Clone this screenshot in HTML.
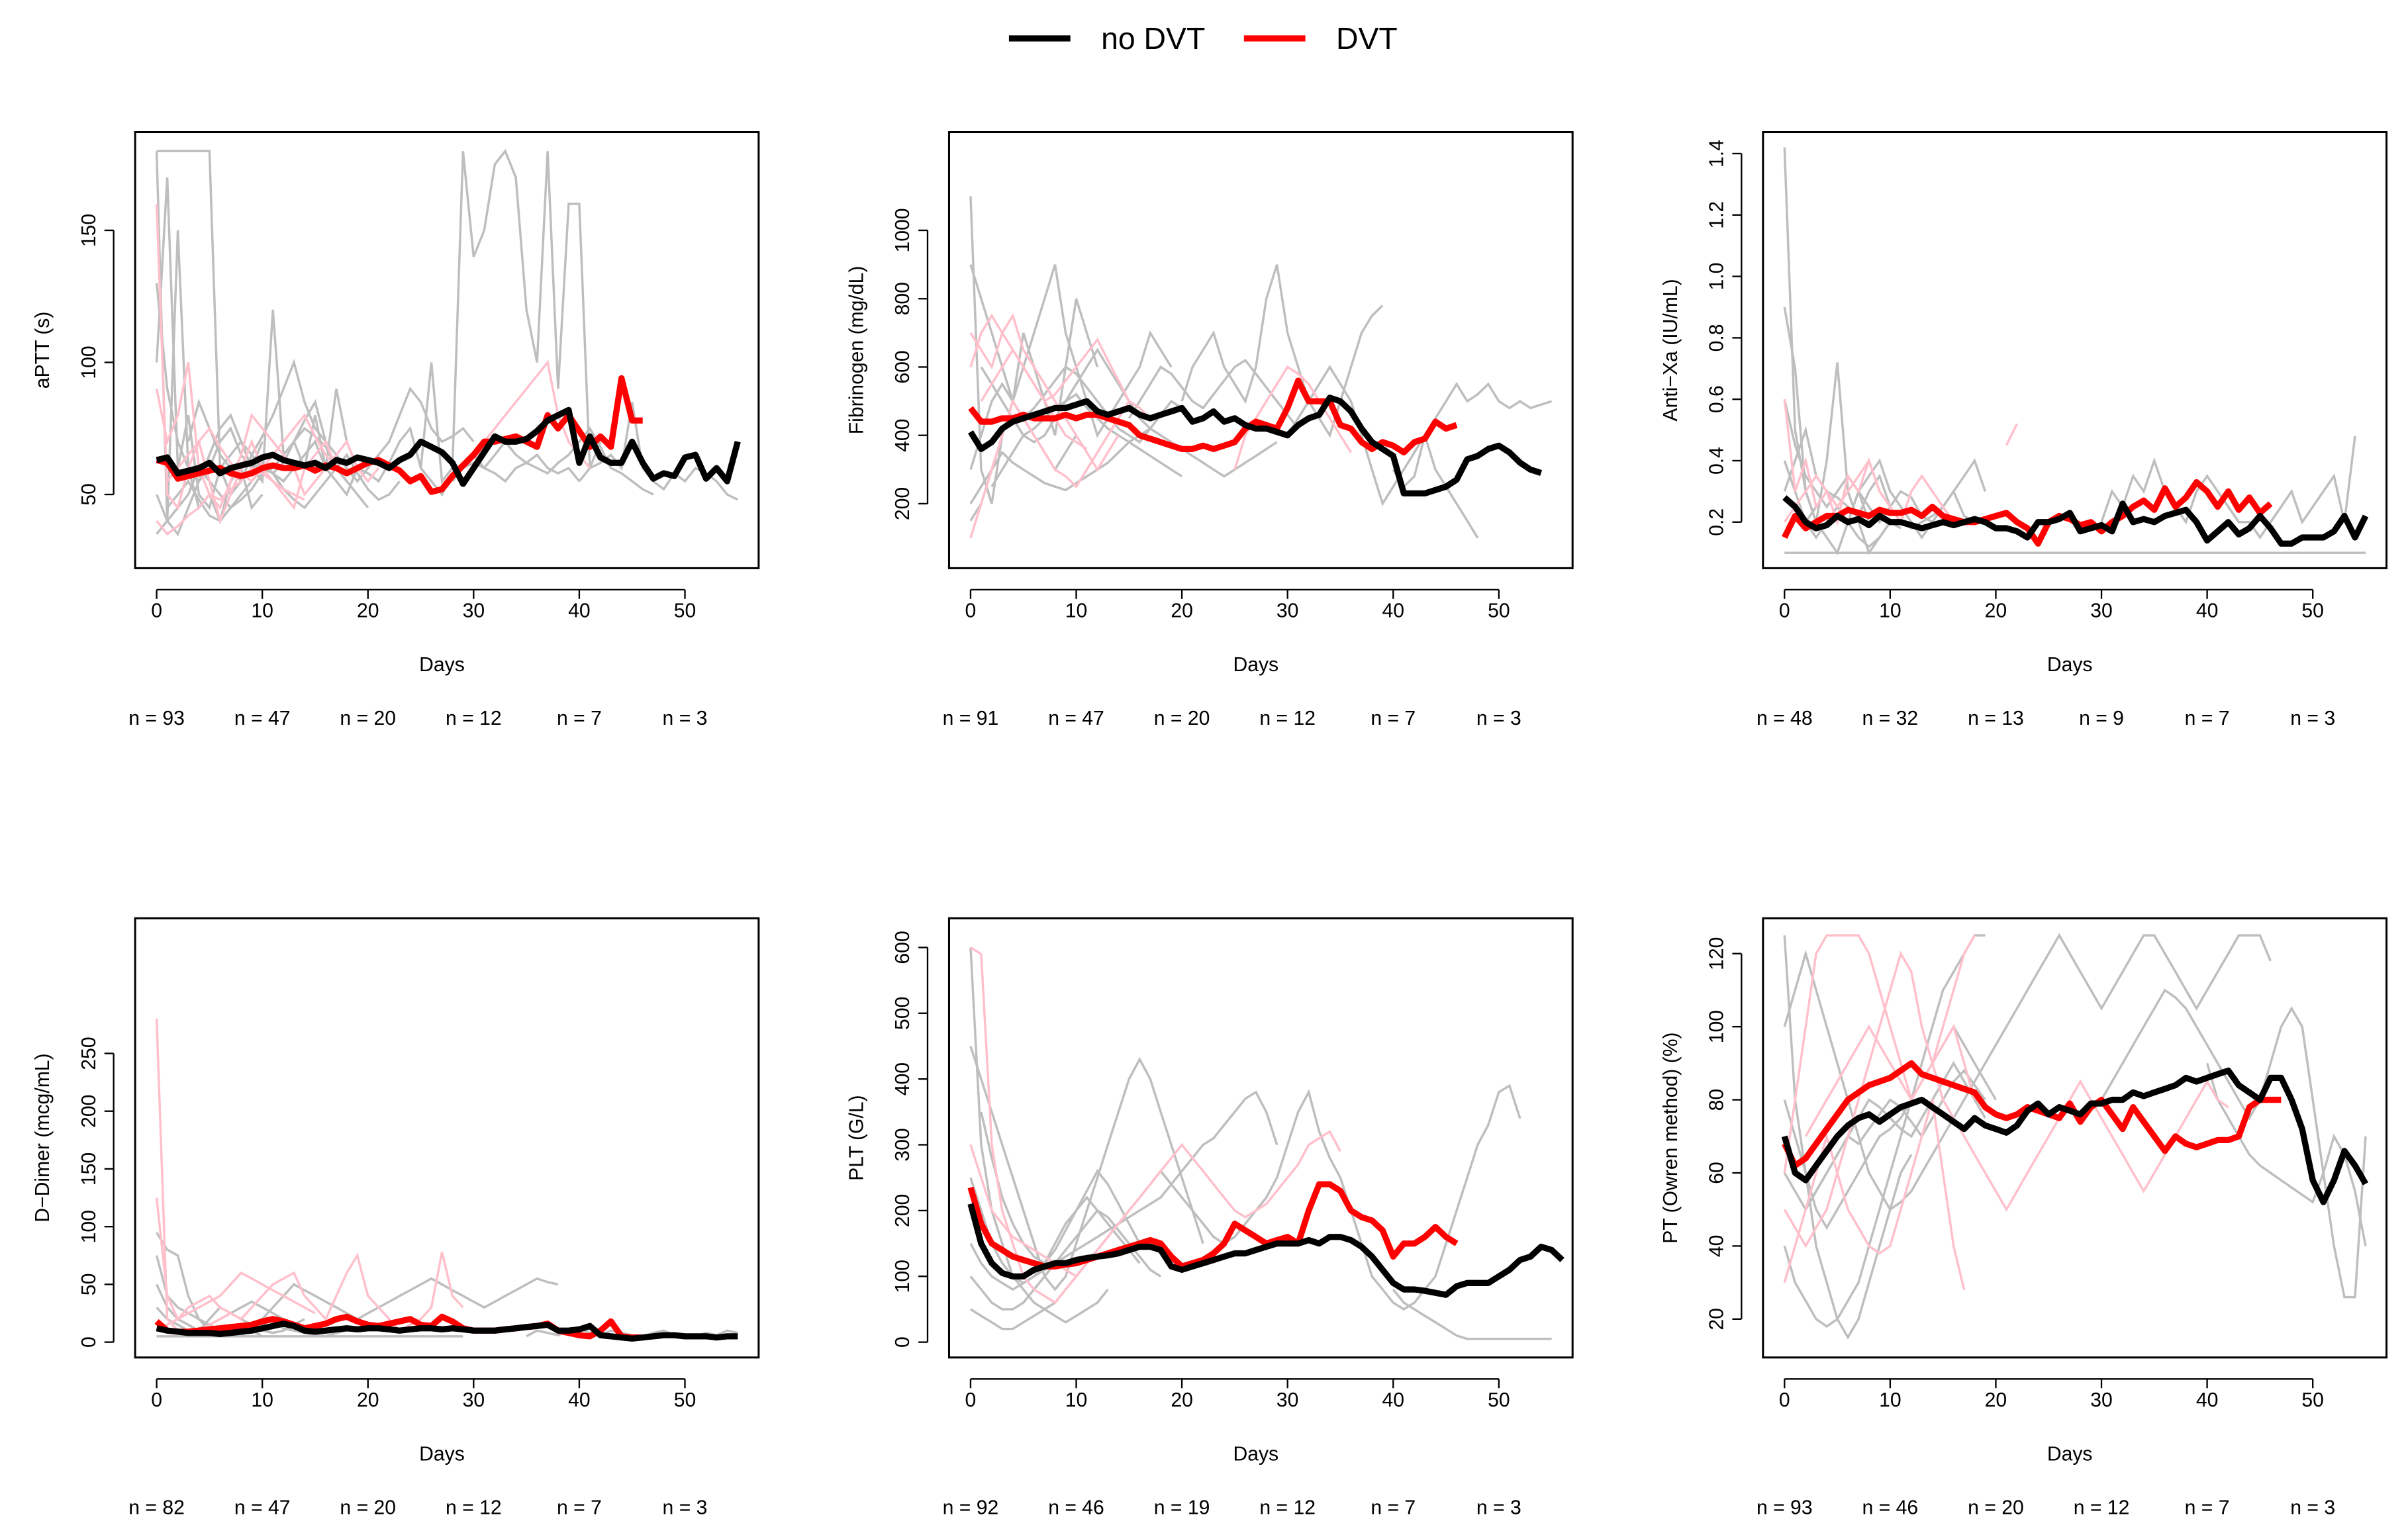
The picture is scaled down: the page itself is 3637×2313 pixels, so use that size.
<!DOCTYPE html>
<html><head><meta charset="utf-8"><style>
html,body{margin:0;padding:0;background:#fff}
svg{display:block;font-family:"Liberation Sans",Arial,sans-serif}
</style></head><body>
<svg id="chart" width="3637" height="2313" viewBox="0 0 1568 997" preserveAspectRatio="none" xmlns="http://www.w3.org/2000/svg">
<g>
<line x1="657" y1="25" x2="697" y2="25" stroke="#000" stroke-width="4"/>
<text x="717" y="32" font-size="20">no DVT</text>
<line x1="810" y1="25" x2="850" y2="25" stroke="#ff0000" stroke-width="4"/>
<text x="870" y="32" font-size="20">DVT</text>
</g>
</svg>
<script>
const ytitles=["aPTT (s)","Fibrinogen (mg/dL)","Anti\u2212Xa (IU/mL)","D\u2212Dimer (mcg/mL)","PLT (G/L)","PT (Owren method) (%)"];
const yticks=[[50,100,150],[200,400,600,800,1000],[0.2,0.4,0.6,0.8,1.0,1.2,1.4],[0,50,100,150,200,250],[0,100,200,300,400,500,600],[20,40,60,80,100,120]];
const xticks=[0,10,20,30,40,50];
const nlabels=[[93,47,20,12,7,3],[91,47,20,12,7,3],[48,32,13,9,7,3],[82,47,20,12,7,3],[92,46,19,12,7,3],[93,46,20,12,7,3]];
const meanNoDVT=[
[63,64,58,59,60,62,58,60,61,62,64,65,63,62,61,62,60,63,62,64,63,62,60,63,65,70,68,66,62,54,60,66,72,70,70,71,74,78,80,82,62,72,64,62,62,70,62,56,58,57,64,65,56,60,55,70],
[410,360,380,420,440,450,460,470,480,480,490,500,470,460,470,480,460,450,460,470,480,440,450,470,440,450,430,420,420,410,400,430,450,460,510,500,470,420,380,360,340,230,230,230,240,250,270,330,340,360,370,350,320,300,290],
[0.28,0.25,0.2,0.18,0.19,0.22,0.2,0.21,0.19,0.22,0.2,0.2,0.19,0.18,0.19,0.2,0.19,0.2,0.21,0.2,0.18,0.18,0.17,0.15,0.2,0.2,0.21,0.23,0.17,0.18,0.19,0.17,0.26,0.2,0.21,0.2,0.22,0.23,0.24,0.2,0.14,0.17,0.2,0.16,0.18,0.22,0.18,0.13,0.13,0.15,0.15,0.15,0.17,0.22,0.15,0.22],
[12,10,9,8,8,8,7,8,9,10,12,14,16,14,10,9,10,11,12,11,12,12,11,10,11,12,12,11,12,11,10,10,10,11,12,13,14,15,10,10,11,14,6,5,4,3,4,5,6,6,5,5,5,4,5,5],
[210,150,120,105,100,100,110,115,120,120,125,128,130,132,135,140,145,145,140,115,110,115,120,125,130,135,135,140,145,150,150,150,155,150,160,160,155,145,130,110,90,80,80,78,75,72,85,90,90,90,100,110,125,130,145,140,125],
[70,60,58,62,66,70,73,75,76,74,76,78,79,80,78,76,74,72,75,73,72,71,73,77,79,76,78,77,76,79,79,80,80,82,81,82,83,84,86,85,86,87,88,84,82,80,86,86,80,72,58,52,58,66,62,57]];
const meanDVT=[
[63,62,56,57,58,59,60,58,57,58,60,61,60,60,61,59,61,60,58,60,62,63,61,59,55,57,51,52,57,61,65,70,70,71,72,70,68,80,75,80,74,68,72,68,94,78,78],
[480,440,440,450,450,460,450,450,450,460,450,460,460,450,440,430,400,390,380,370,360,360,370,360,370,380,420,440,430,420,480,560,500,500,500,430,420,380,360,380,370,350,380,390,440,420,430],
[0.15,0.22,0.18,0.2,0.22,0.22,0.24,0.23,0.22,0.24,0.23,0.23,0.24,0.22,0.25,0.22,0.21,0.2,0.2,0.21,0.22,0.23,0.2,0.18,0.13,0.2,0.22,0.21,0.19,0.2,0.17,0.2,0.22,0.25,0.27,0.24,0.31,0.25,0.28,0.33,0.3,0.25,0.3,0.24,0.28,0.23,0.26],
[18,10,9,9,10,11,12,13,14,15,18,20,18,15,12,14,16,20,22,18,15,14,16,18,20,15,14,22,18,12,10,10,10,11,12,13,14,16,10,8,6,5,10,18,5,4,4],
[235,180,150,140,130,125,120,115,115,118,120,125,130,135,140,145,150,155,150,130,115,120,125,135,150,180,170,160,150,155,160,150,200,240,240,230,200,190,185,170,130,150,150,160,175,160,150],
[68,62,64,68,72,76,80,82,84,85,86,88,90,87,86,85,84,83,82,78,76,75,76,78,77,76,75,79,74,78,80,76,72,78,74,70,66,70,68,67,68,69,69,70,78,80,80,80]];
const grayLines=[
[{s:0,v:[180,40,150,60,45,50,40,55,60,45,50]},{s:0,v:[180,180,180,180,180,180,60,50,55,60,70]},{s:0,v:[100,170,60,80,50,45,60,65,70,60,55,120,65,70,60,80,60,90,70,60]},{s:25,v:[60,100,55,60,180,140,150,175,180,170,120,100,180,90,160,160,60,70]},{s:0,v:[50,40,35,45,55,60,70,75,65,60,62,58,55,60,65,70,60,55,50,60,58,55,62,70,75,60,55,50,58,60,65,60,58,55,60,62,65,60,58,60,55]},{s:40,v:[55,60,62,65,60,85,60,55,52,58,55,60,58,55,50,48]},{s:0,v:[35,40,45,50,60,55,50,45,48,52,58,60,65,70,75,72,68,60,55,50,45]},{s:0,v:[130,90,70,60,55,65,75,80,70,65,60,58,62,70,78,85,70,60,55]},{s:1,v:[45,50,55,48,42,40,45,50,55,60,58,52,48,45,50,55,60,65,58,52,48,50,55]},{s:3,v:[70,85,75,65,60,55,65,72,80,90,100,85,75,70,65,60,55,60,65,70,80,90,85,75,70,72,75,70]},{s:28,v:[55,60,62,60,65,70,65,62,60,58,62,65,70,75,68,60,58,55,52,50]}],
[{s:0,v:[1100,300,200,400,500,700,600,500,400,600,800,700,600]},{s:0,v:[900,800,700,600,500,450,400,350,300,350,400]},{s:0,v:[150,200,300,400,500,600,700,800,900,700,600,500,400,450,500,550,600,700,650,600]},{s:20,v:[500,600,650,700,600,550,500,600,800,900,700,600,500,450,400,500,600,700,750,780]},{s:30,v:[400,450,500,550,600,550,500,400,300,200,250,300,350,400,300,250,200,150,100]},{s:0,v:[200,250,300,350,320,300,280,260,250,240,260,280,300,320,350,380,400,420,400,380,360,340,320,300,280,300,320,340,360,380]},{s:40,v:[300,250,280,400,450,500,550,500,520,550,500,480,500,480,490,500]},{s:0,v:[300,400,500,550,500,450,480,520,560,600,580,540,500,460,420,400,380,420,460,500,480]},{s:1,v:[600,550,500,450,400,380,400,450,500,550,600,650,600,550,500,450,420,400]},{s:2,v:[250,300,350,400,420,450,480,500,520,480,450,420,400,380,360,340,320,300,280]},{s:15,v:[450,500,550,600,580,540,500,480,520,560,600,620,580,540,500,460,420]}],
[{s:0,v:[1.42,0.5,0.3,0.2,0.15,0.1,0.2,0.3,0.2]},{s:0,v:[0.9,0.7,0.3,0.2,0.4,0.72,0.3,0.2,0.1,0.15,0.2]},{s:0,v:[0.1,0.1,0.1,0.1,0.1,0.1,0.1,0.1,0.1,0.1,0.1,0.1,0.1,0.1,0.1,0.1,0.1,0.1,0.1,0.1,0.1,0.1,0.1,0.1,0.1,0.1,0.1,0.1,0.1,0.1,0.1,0.1,0.1,0.1,0.1,0.1,0.1,0.1,0.1,0.1,0.1,0.1,0.1,0.1,0.1,0.1,0.1,0.1,0.1,0.1,0.1,0.1,0.1,0.1,0.1,0.1]},{s:0,v:[0.3,0.4,0.5,0.35,0.3,0.25,0.2,0.3,0.35,0.4,0.3,0.25,0.2,0.15,0.2,0.25,0.3,0.35,0.4,0.3]},{s:30,v:[0.2,0.3,0.25,0.35,0.3,0.4,0.3,0.25,0.2,0.3,0.35,0.3,0.25,0.2,0.2,0.15,0.2,0.25,0.3,0.2,0.25,0.3,0.35,0.2,0.48]},{s:0,v:[0.6,0.45,0.35,0.3,0.25,0.3,0.35,0.3,0.25,0.2,0.25,0.3,0.28,0.22,0.2]},{s:2,v:[0.2,0.25,0.3,0.28,0.25,0.22,0.3,0.35,0.25,0.2,0.18,0.2,0.22,0.25,0.3,0.22,0.2]},{s:0,v:[0.4,0.3,0.2,0.15,0.2,0.25,0.2,0.15,0.12,0.15,0.2,0.18]}],
[{s:0,v:[95,80,75,40,20,10,5,5,8,10,5]},{s:0,v:[50,30,20,15,10,20,30,25,20,15,10,8,10,15,20]},{s:10,v:[20,30,40,50,45,40,35,30,25,20,25,30,35,40,45,50,55,50,45,40,35,30,35,40,45,50,55,52,50]},{s:0,v:[5,5,5,5,5,5,5,5,5,5,5,5,5,5,5,5,5,5,5,5,5,5,5,5,5,5,5,5,5,5]},{s:35,v:[5,10,8,6,10,12,8,6,10,8,6,5,8,10,6,5,5,8,6,10,8]},{s:0,v:[30,20,15,10,8,6,8,10,12,15,20,18,12,10,8,6,5,8,10,12,15,10]},{s:0,v:[75,40,30,25,20,15,10,8,6,10,15,12]},{s:2,v:[10,8,12,15,20,25,30,35,30,25,20,15,12,10,8]}],
[{s:0,v:[600,300,200,150,100,80,60,50,40,30,40,50,60,80]},{s:0,v:[450,400,350,300,250,200,150,100,80,100,150,200,250,300,350,400,430,400,350,300,250,200,150]},{s:0,v:[50,40,30,20,20,30,40,50,60,80,100,120,140,160,180,200,220,240,260,240,220,200,180,160,150,160,180,200,220,250,300,350,380,320,280,250]},{s:35,v:[250,200,150,100,80,60,50,60,80,100,150,200,250,300,330,380,390,340]},{s:40,v:[80,60,50,40,30,20,10,5,5,5,5,5,5,5,5,5]},{s:0,v:[150,120,100,90,80,90,100,110,120,130,140,150,160,170,180,190,200,210,220,240,260,280,300,310,330,350,370,380,350,300]},{s:0,v:[250,200,150,120,100,90,100,120,150,180,200,220,200,180,160,140,120]},{s:0,v:[100,80,60,50,50,60,80,100,120,140,160,180,200,190,170,150,130,110,100]},{s:1,v:[350,280,220,180,150,130,120,140,170,200,230,260,240,210,180,150]}],
[{s:0,v:[125,80,60,40,30,20,15,20,30,40,50,60,65]},{s:0,v:[40,30,25,20,18,20,25,30,40,50,60,70,80,90,100,110,115,120,125,125]},{s:0,v:[100,110,120,110,100,90,80,70,60,55,50,52,55,60,65,70,75,80,85,90,95,100,105,110,115,120,125,120,115,110,105,110,115,120,125,125,120,115,110,105,110,115,120,125,125,125,118]},{s:30,v:[80,85,90,95,100,105,110,108,105,100,95,90,85,80,75,80,90,100,105,100,80,60,40,26,26,70]},{s:40,v:[90,80,75,70,65,62,60,58,56,54,52,60,70,65,55,40]},{s:0,v:[60,55,50,55,60,65,70,75,80,78,75,72,70,75,80,85,90,85,80,75]},{s:0,v:[80,70,60,50,45,50,55,60,65,70,72,75,80,85,90,95,100,95,90,85,80]},{s:2,v:[50,55,60,65,70,68,72,76,80,78,74,70,75,80,85,88,84,80]}],
];
const pinkLines=[
[{s:0,v:[160,50,45,60,70,55,40,50,60,70,60,55,50,45,60,65,70,60]},{s:0,v:[90,70,80,100,60,50,45,55,65,80,75,70,65,60,50,55,60,65,70,60,55,60]},{s:0,v:[40,35,38,42,45,50,48,52,55,60,58,55,52,50,48]},{s:30,v:[60,70,75,80,85,90,95,100,80,70,65,60]},{s:1,v:[55,60,65,70,75,68,62,58,55,60,65,70,75,80,72,65,60]}],
[{s:0,v:[700,650,600,700,750,650,600,550,500,450,400,350,300,350,400]},{s:0,v:[100,200,300,400,500,450,400,350,300,280,250,300,350,400,450,500,480,450]},{s:0,v:[600,700,750,700,650,600,550,500,450,400,380,360]},{s:25,v:[300,400,450,500,550,600,580,550,500,450,400,350]},{s:1,v:[500,550,600,650,600,550,500,520,560,600,640,680,620,560,500]}],
[{s:0,v:[0.6,0.3,0.4,0.25,0.3,0.2,0.35,0.3,0.4,0.3,0.25]},{s:21,v:[0.45,0.52]},{s:0,v:[0.2,0.25,0.3,0.35,0.3,0.25,0.3,0.35,0.4,0.3,0.25,0.2,0.3,0.35,0.3,0.25,0.2]}],
[{s:0,v:[280,20,10,8,10,15,20,25,20]},{s:0,v:[125,40,20,30,35,40,30,25,20,30,40,50,55,60,40,30,20,40,60,75,40,30,20,10,15,20,30,78,40,30]},{s:0,v:[10,15,20,25,30,35,40,50,60,55,50,45,40,35,30,25]}],
[{s:0,v:[600,590,300,200,150,100,80,70,60,80,100,120,140,160,180,200]},{s:0,v:[300,250,200,180,160,150,140,130,120,110,100,120,140,160,180,200,220,240,260,280,300,280,260,240,220,200,190,200,210,230,250,270,300,310,320,290]}],
[{s:0,v:[60,80,100,120,125,125,125,125,120,110,100,90,80,85,90,100,110,120,125]},{s:0,v:[50,45,40,45,50,60,70,80,90,100,110,120,115,100,90,80,75,70,65,60,55,50,55,60,65,70,75,80,85,80,75,70,65,60,55,60,65,70,75,80,85,80,78]},{s:0,v:[30,40,50,60,70,60,50,45,40,38,40,50,60,70,80,60,40,28]},{s:2,v:[70,75,80,85,90,95,100,95,90,85,80,85,90,95,100,90,80]}]];
const yCal=[[50,322,150,150],[200,328,1000,150],[0.2,340,1.4,100],[0,874,250,686],[0,874,600,617],[20,859,120,621]];
const NS="http://www.w3.org/2000/svg";
const svg=document.getElementById('chart');
const defs=document.createElementNS(NS,'defs');svg.appendChild(defs);
function mk(tag,attrs,parent){const e=document.createElementNS(NS,tag);for(const k in attrs)e.setAttribute(k,attrs[k]);(parent||svg).appendChild(e);return e;}
const names=['aptt','fibrinogen','anti-xa','d-dimer','plt','pt'];
for(let p=0;p<6;p++){
  const col=p%3,row=Math.floor(p/3);
  const bx0=88+col*530,bx1=bx0+406,by0=row?598:86,by1=row?884:370;
  const x0=102+col*530,dx=6.88;
  const c=yCal[p];
  const X=d=>x0+d*dx;
  const Y=v=>c[1]+(v-c[0])*(c[3]-c[1])/(c[2]-c[0]);
  const cp=mk('clipPath',{id:'clip'+p},defs);
  mk('rect',{x:bx0,y:by0,width:bx1-bx0,height:by1-by0},cp);
  const g=mk('g',{});
  
  
  const lg=mk('g',{'clip-path':`url(#clip${p})`},g);
  const pathOf=(s,v)=>v.map((y,i)=>(i?'L':'M')+X(s+i).toFixed(1)+' '+Y(y).toFixed(1)).join('');
  grayLines[p].forEach((ln,i)=>{const e=mk('path',{d:pathOf(ln.s,ln.v),fill:'none',stroke:'#bebebe','stroke-width':1.5},lg);
    });
  pinkLines[p].forEach((ln,i)=>{const e=mk('path',{d:pathOf(ln.s,ln.v),fill:'none',stroke:'#ffc0cb','stroke-width':1.5},lg);
    });
  const r=mk('path',{d:pathOf(0,meanDVT[p]),fill:'none',stroke:'#ff0000','stroke-width':4,'stroke-linejoin':'round'},lg);
  
  const b=mk('path',{d:pathOf(0,meanNoDVT[p]),fill:'none',stroke:'#000','stroke-width':4,'stroke-linejoin':'round'},lg);
  
  const box=mk('rect',{x:bx0,y:by0,width:bx1-bx0,height:by1-by0,fill:'none',stroke:'#000','stroke-width':1.3},g);
  
  mk('line',{x1:X(0),x2:X(50),y1:by1+14,y2:by1+14,stroke:'#000','stroke-width':1},g);
  xticks.forEach(t=>{mk('line',{x1:X(t),x2:X(t),y1:by1+14,y2:by1+20,stroke:'#000','stroke-width':1},g);
    const tx=mk('text',{x:X(t),y:by1+32,'font-size':13,'text-anchor':'middle'},g);tx.textContent=t;
    });
  const yt=yticks[p];
  mk('line',{x1:bx0-14,x2:bx0-14,y1:Y(yt[0]),y2:Y(yt[yt.length-1]),stroke:'#000','stroke-width':1},g);
  yt.forEach(t=>{mk('line',{x1:bx0-20,x2:bx0-14,y1:Y(t),y2:Y(t),stroke:'#000','stroke-width':1},g);
    const tx=mk('text',{x:bx0-26,y:Y(t),'font-size':13,'text-anchor':'middle',transform:`rotate(-90 ${bx0-26} ${Y(t)})`},g);
    tx.textContent=(p==2)?t.toFixed(1):t;
    });
  const ymid=(by0+by1)/2;
  const ytl=mk('text',{x:bx0-56,y:ymid,'font-size':13,'text-anchor':'middle',transform:`rotate(-90 ${bx0-56} ${ymid})`},g);
  ytl.textContent=ytitles[p];
  const xtl=mk('text',{x:X(27),y:by1+67,'font-size':13,'text-anchor':'middle'},g);
  xtl.textContent='Days';
  nlabels[p].forEach((n,i)=>{const tx=mk('text',{x:X(i*10),y:by1+102,'font-size':13,'text-anchor':'middle'},g);
    tx.textContent='n = '+n;});
}
</script>
</body></html>
